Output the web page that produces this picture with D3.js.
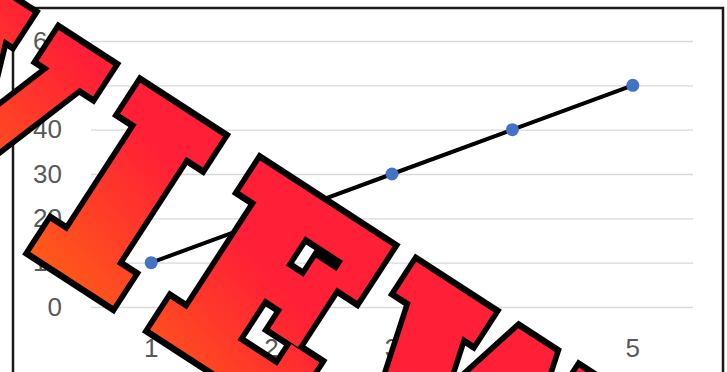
<!DOCTYPE html>
<html>
<head>
<meta charset="utf-8">
<script src="https://cdn.jsdelivr.net/npm/d3@7"></script>
<style>
  html, body { margin: 0; padding: 0; background: #fff; overflow: hidden; }
  svg { display: block; }
</style>
</head>
<body>
<svg id="chart" width="727" height="372"></svg>
<script>
// Series data
const categories = [1, 2, 3, 4, 5];
const values = [10, 20, 30, 40, 50];
const yTicks = [0, 10, 20, 30, 40, 50, 60];

// Stamp lettering across the chart (letter centres along the stamp's baseline)
const stampText = "PREVIEW";
const stampCenters = [-540, -350, -160, 36, 212, 386, 622];

const svg = d3.select("#chart");
const plot = { left: 91, right: 693, top: 41, bottom: 307 };

const x = d3.scaleBand().domain(categories).range([plot.left, plot.right]);
const y = d3.scaleLinear().domain([0, 60]).range([plot.bottom, plot.top]);
const cx = d => x(d) + x.bandwidth() / 2;

// Chart frame
svg.append("rect")
  .attr("x", 13).attr("y", 8)
  .attr("width", 710).attr("height", 390)
  .attr("fill", "#fff")
  .attr("stroke", "#1a1a1a")
  .attr("stroke-width", 2.5);

// Value axis with horizontal gridlines
const yAxis = svg.append("g")
  .attr("transform", `translate(${plot.left},0)`)
  .call(d3.axisLeft(y).tickValues(yTicks)
    .tickSize(-(plot.right - plot.left)).tickPadding(29));
yAxis.select(".domain").remove();
yAxis.selectAll(".tick line").attr("stroke", "#d9d9d9").attr("stroke-width", 1.3);
yAxis.selectAll(".tick text")
  .attr("fill", "#595959")
  .attr("font-family", "'Liberation Sans', Arial, sans-serif")
  .attr("font-size", 26);

// Category axis
const xAxis = svg.append("g")
  .attr("transform", `translate(0,${plot.bottom})`)
  .call(d3.axisBottom(x).tickSize(0).tickPadding(32));
xAxis.select(".domain").remove();
xAxis.selectAll(".tick text")
  .attr("fill", "#595959")
  .attr("font-family", "'Liberation Sans', Arial, sans-serif")
  .attr("font-size", 26);

// Line series
const pts = categories.map((c, i) => ({ c, v: values[i] }));
svg.append("path")
  .datum(pts)
  .attr("fill", "none")
  .attr("stroke", "#000")
  .attr("stroke-width", 4)
  .attr("d", d3.line().x(d => cx(d.c)).y(d => y(d.v)));

svg.selectAll("circle.pt")
  .data(pts)
  .join("circle")
  .attr("class", "pt")
  .attr("cx", d => cx(d.c))
  .attr("cy", d => y(d.v))
  .attr("r", 6.5)
  .attr("fill", "#4472c4");

// Diagonal stamp: heavy slab letters, fattened with a same-colour stroke
// and ringed by a black outline
const squeeze = 0.86;
const defs = svg.append("defs");
const grad = defs.append("linearGradient")
  .attr("id", "stampGrad")
  .attr("gradientUnits", "userSpaceOnUse")
  .attr("x1", 0).attr("y1", 15).attr("x2", 50).attr("y2", -195);
grad.append("stop").attr("offset", "0%").attr("stop-color", "#ff6a12");
grad.append("stop").attr("offset", "100%").attr("stop-color", "#ff1f36");

const stamp = svg.append("g")
  .attr("transform", `translate(-100,154) rotate(33) scale(${squeeze},1)`);

const xs = stampCenters.map(c => c / squeeze).join(" ");
function stampLayer(fill, stroke, width) {
  stamp.append("text")
    .attr("x", xs)
    .attr("y", 0)
    .attr("text-anchor", "middle")
    .attr("font-family", "'DejaVu Serif', serif")
    .attr("font-weight", "bold")
    .attr("font-size", 246)
    .attr("fill", fill)
    .attr("stroke", stroke)
    .attr("stroke-width", width)
    .attr("stroke-linejoin", "miter")
    .attr("stroke-miterlimit", 6)
    .attr("vector-effect", "non-scaling-stroke")
    .text(stampText);
}
stampLayer("#000", "#000", 33);
stampLayer("url(#stampGrad)", "url(#stampGrad)", 21);
</script>
</body>
</html>
